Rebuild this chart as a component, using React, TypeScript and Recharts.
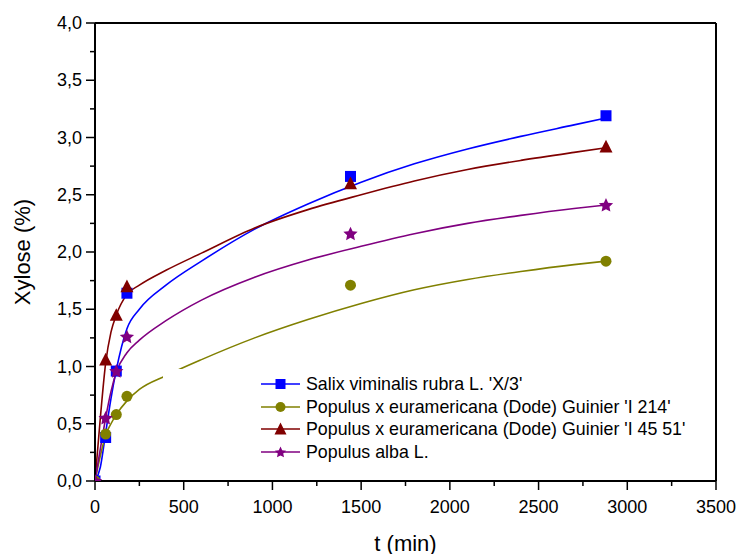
import { ComposedChart, Line, Scatter, XAxis, YAxis, ReferenceLine } from "recharts";

// measured hydrolysis points
const times = [0, 60, 120, 180, 1440, 2880];
const salix = [0, 0.38, 0.96, 1.64, 2.66, 3.19];
const pop214 = [0, 0.41, 0.58, 0.74, 1.71, 1.92];
const pop4551 = [0, 1.06, 1.45, 1.7, 2.6, 2.92];
const alba = [0, 0.55, 0.96, 1.26, 2.16, 2.41];

// fitted curves
const fitTimes = [0, 30, 60, 90, 120, 180, 250, 400, 600, 900, 1200, 1500, 1800, 2100, 2400, 2700, 2880];
const salixFit = [0, 0.12, 0.42, 0.72, 0.97, 1.33, 1.5, 1.71, 1.92, 2.2, 2.42, 2.61, 2.77, 2.9, 3.01, 3.11, 3.17];
const pop214Fit = [0, 0.22, 0.4, 0.5, 0.58, 0.7, 0.8, 0.92, 1.06, 1.25, 1.41, 1.55, 1.67, 1.76, 1.83, 1.89, 1.92];
const pop4551Fit = [0, 0.55, 1.03, 1.3, 1.45, 1.63, 1.71, 1.84, 1.99, 2.21, 2.37, 2.5, 2.62, 2.72, 2.8, 2.87, 2.91];
const albaFit = [0, 0.28, 0.55, 0.78, 0.95, 1.12, 1.23, 1.4, 1.58, 1.78, 1.93, 2.05, 2.16, 2.25, 2.32, 2.38, 2.41];

const xTicks = [0, 250, 500, 750, 1000, 1250, 1500, 1750, 2000, 2250, 2500, 2750, 3000, 3250, 3500];
const yTicks = [0, 0.25, 0.5, 0.75, 1, 1.25, 1.5, 1.75, 2, 2.25, 2.5, 2.75, 3, 3.25, 3.5, 3.75, 4];

const FONT = "'Liberation Sans', Arial, sans-serif";

const series = [
  { name: "Salix viminalis rubra L. 'X/3'", color: "#0000ff", pts: salix, fit: salixFit, marker: "square" },
  { name: "Populus x euramericana (Dode) Guinier 'I 214'", color: "#808000", pts: pop214, fit: pop214Fit, marker: "circle" },
  { name: "Populus x euramericana (Dode) Guinier 'I 45 51'", color: "#800000", pts: pop4551, fit: pop4551Fit, marker: "triangle" },
  { name: "Populus alba L.", color: "#800080", pts: alba, fit: albaFit, marker: "star" },
];

function starPath(cx: number, cy: number, R: number) {
  const r = R * 0.48;
  let d = "";
  for (let i = 0; i < 10; i++) {
    const rad = i % 2 === 0 ? R : r;
    const a = -Math.PI / 2 + (i * Math.PI) / 5;
    d += (i === 0 ? "M" : "L") + (cx + rad * Math.cos(a)).toFixed(2) + "," + (cy + rad * Math.sin(a)).toFixed(2);
  }
  return d + "Z";
}

function Marker({ kind, cx, cy, color, s }: { kind: string; cx: number; cy: number; color: string; s: number }) {
  if (kind === "square") return <rect x={cx - s / 2} y={cy - s / 2} width={s} height={s} fill={color} />;
  if (kind === "circle") return <circle cx={cx} cy={cy} r={s / 2} fill={color} />;
  if (kind === "triangle") {
    const h = s * 0.9;
    return <path d={`M${cx},${cy - h / 2 - 1}L${cx + s / 2},${cy + h / 2}L${cx - s / 2},${cy + h / 2}Z`} fill={color} />;
  }
  return <path d={starPath(cx, cy + 0.5, s / 2 + 1)} fill={color} />;
}

const markerSize: Record<string, number> = { square: 11, circle: 11, triangle: 13, star: 13 };

function XTick(props: any) {
  const { x, y, payload } = props;
  const major = payload.value % 500 === 0;
  return (
    <g>
      <line x1={x} y1={y} x2={x} y2={y + (major ? 9 : 5)} stroke="#000" strokeWidth={1.5} />
      {major && (
        <text x={x} y={y + 26} textAnchor="middle" dominantBaseline="central" fontSize={18} fontFamily={FONT} fill="#000">
          {payload.value}
        </text>
      )}
    </g>
  );
}

function YTick(props: any) {
  const { x, y, payload } = props;
  const major = Math.round(payload.value * 100) % 50 === 0;
  return (
    <g>
      <line x1={x} y1={y} x2={x - (major ? 9 : 5)} y2={y} stroke="#000" strokeWidth={1.5} />
      {major && (
        <text x={x - 13} y={y} textAnchor="end" dominantBaseline="central" fontSize={18} fontFamily={FONT} fill="#000">
          {payload.value.toFixed(1).replace(".", ",")}
        </text>
      )}
    </g>
  );
}

function LegendIcon({ color, kind }: { color: string; kind: string }) {
  return (
    <svg width={39} height={16} style={{ display: "block" }}>
      <line x1={0} y1={8} x2={39} y2={8} stroke={color} strokeWidth={1.6} />
      <Marker kind={kind} cx={19.5} cy={8} color={color} s={kind === "triangle" ? 12 : 10} />
    </svg>
  );
}

export default function App() {
  return (
    <div style={{ position: "absolute", left: 0, top: 0, width: 739, height: 554, background: "#fff" }}>
      <ComposedChart width={739} height={554} margin={{ top: 23, right: 23, bottom: 0, left: 0 }}>
        <XAxis
          type="number"
          dataKey="t"
          domain={[0, 3500]}
          ticks={xTicks}
          allowDataOverflow
          interval={0}
          height={73}
          tickSize={0}
          tickMargin={0}
          tickLine={false}
          tick={<XTick />}
          axisLine={{ stroke: "#000", strokeWidth: 2 }}
          label={{
            content: (p: any) => (
              <text
                x={p.viewBox.x + p.viewBox.width / 2}
                y={p.viewBox.y + 62}
                textAnchor="middle"
                dominantBaseline="central"
                fontSize={22}
                fontFamily={FONT}
                fill="#000"
              >
                t (min)
              </text>
            ),
          }}
        />
        <YAxis
          type="number"
          domain={[0, 4]}
          ticks={yTicks}
          allowDataOverflow
          interval={0}
          width={95}
          tickSize={0}
          tickMargin={0}
          tickLine={false}
          tick={<YTick />}
          axisLine={{ stroke: "#000", strokeWidth: 2 }}
          label={{
            content: (p: any) => {
              const cx = p.viewBox.x + 22;
              const cy = p.viewBox.y + p.viewBox.height / 2;
              return (
                <text
                  x={cx}
                  y={cy}
                  transform={`rotate(-90 ${cx} ${cy})`}
                  textAnchor="middle"
                  dominantBaseline="central"
                  fontSize={22}
                  fontFamily={FONT}
                  fill="#000"
                >
                  Xylose (%)
                </text>
              );
            },
          }}
        />
        <ReferenceLine y={4} stroke="#000" strokeWidth={2} />
        <ReferenceLine x={3500} stroke="#000" strokeWidth={2} />
        {series.map((s) => (
          <Line
            key={s.name + "-fit"}
            data={fitTimes.map((t, i) => ({ t, v: s.fit[i] }))}
            dataKey="v"
            type="monotone"
            stroke={s.color}
            strokeWidth={1.6}
            dot={false}
            activeDot={false}
            isAnimationActive={false}
          />
        ))}
        {series.map((s) => (
          <Scatter
            key={s.name}
            data={times.map((t, i) => ({ t, v: s.pts[i] }))}
            dataKey="v"
            fill={s.color}
            isAnimationActive={false}
            shape={(p: any) => <Marker kind={s.marker} cx={p.cx} cy={p.cy} color={s.color} s={markerSize[s.marker]} />}
          />
        ))}
      </ComposedChart>
      <div
        style={{
          position: "absolute",
          left: 163,
          top: 369,
          width: 540,
          height: 95,
          background: "#fff",
          fontFamily: FONT,
          fontSize: 17.8,
          color: "#000",
        }}
      >
        {series.map((s, i) => (
          <div
            key={s.name}
            style={{ position: "absolute", left: 98, top: 7 + i * 22.5, display: "flex", alignItems: "center", whiteSpace: "nowrap" }}
          >
            <LegendIcon color={s.color} kind={s.marker} />
            <span style={{ marginLeft: 6, lineHeight: "16px" }}>{s.name}</span>
          </div>
        ))}
      </div>
    </div>
  );
}
